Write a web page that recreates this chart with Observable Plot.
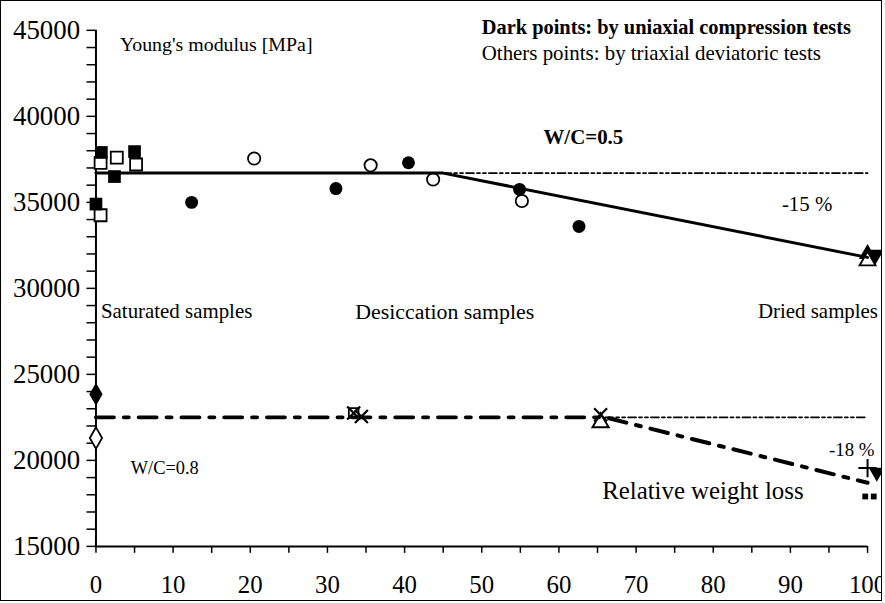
<!DOCTYPE html>
<html><head><meta charset="utf-8">
<script src="https://cdn.jsdelivr.net/npm/d3@7"></script>
<script src="https://cdn.jsdelivr.net/npm/@observablehq/plot@0.6"></script>
<style>
body{margin:0;background:#fff;}
#frame{position:absolute;left:0;top:0;width:880px;height:599px;border:1.5px solid #000;overflow:hidden;background:#fff;}
#frame svg{position:absolute;left:-1.5px;top:-1.5px;}
</style></head><body><div id="frame"></div>
<script>
// ---- tick labels ----
const xTickLabels = [0, 10, 20, 30, 40, 50, 60, 70, 80, 90, 100];
const yTickLabels = [15000, 20000, 25000, 30000, 35000, 40000, 45000];

// ---- W/C = 0.5 series ----
const w05FilledSquareX = [0, 0.7, 2.4, 5.0];
const w05FilledSquareY = [34900, 37900, 36500, 37950];
const w05OpenSquareX = [0.6, 0.6, 2.7, 5.2];
const w05OpenSquareY = [34250, 37300, 37600, 37200];
const w05FilledCircleX = [12.4, 31.1, 40.5, 54.9, 62.6];
const w05FilledCircleY = [35000, 35800, 37300, 35750, 33600];
const w05OpenCircleX = [20.5, 35.6, 43.7, 55.2];
const w05OpenCircleY = [37550, 37150, 36330, 35075];
const w05FilledTriX = [100];
const w05FilledTriY = [32000];
const w05OpenTriX = [100];
const w05OpenTriY = [31600];
const w05DownTriX = [101];
const w05DownTriY = [31950];
const w05TrendX = [0, 45, 100];
const w05TrendY = [36700, 36700, 31800];
const w05RefX = [45, 100];
const w05RefY = [36700, 36700];

// ---- W/C = 0.8 series ----
const w08FilledDiamondX = [0];
const w08FilledDiamondY = [23850];
const w08OpenDiamondX = [0];
const w08OpenDiamondY = [21300];
const w08BoxX = [33.4];
const w08BoxY = [22750];
const w08TimesX = [33.4, 34.4, 65.4];
const w08TimesY = [22750, 22550, 22650];
const w08OpenTriX = [65.4];
const w08OpenTriY = [22200];
const w08PlusX = [100];
const w08PlusY = [19550];
const w08DownTriX = [101.2];
const w08DownTriY = [19300];
const w08SmallSquareX = [99.7, 100.8];
const w08SmallSquareY = [17900, 17900];
const w08TrendX = [0, 66, 100];
const w08TrendY = [22500, 22500, 18700];
const w08RefX = [66, 100];
const w08RefY = [22500, 22500];

const serif = "'Liberation Serif', 'Times New Roman', serif";
const dashDotDot = "8,3,3,3,3,3";

function pts(X, Y, opts) { return Plot.dot(X, {x: X, y: Y, ...opts}); }
function note(txt, x, y, opts) {
  return Plot.text([txt], {x, y, text: d => d, textAnchor: "start", fontSize: 21, fill: "black", ...opts});
}

const chart = Plot.plot({
  width: 885, height: 603,
  marginLeft: 96, marginRight: 13, marginTop: 30, marginBottom: 54,
  x: {domain: [0, 100]},
  y: {domain: [15000, 45000]},
  style: {fontFamily: serif, color: "#000", background: "transparent", overflow: "visible"},
  marks: [
    // axes
    Plot.axisY(d3.range(15000, 45001, 1000), {tickSize: 9, tickFormat: () => "", strokeWidth: 1.5, label: null}),
    Plot.axisY(yTickLabels, {tickSize: 0, tickPadding: 16, fontSize: 27, tickFormat: d3.format("d"), label: null}),
    Plot.axisX(d3.range(0, 101, 5), {tickSize: 7, tickFormat: () => "", strokeWidth: 1.5, label: null}),
    Plot.axisX(xTickLabels, {tickSize: 0, tickPadding: 29, fontSize: 25, tickFormat: d3.format("d"), label: null}),
    Plot.ruleX([0], {y1: 15000, y2: 45000, strokeWidth: 2}),
    Plot.ruleY([15000], {x1: 0, x2: 100, strokeWidth: 2}),

    // reference (initial value) lines
    Plot.line(w05RefX, {x: w05RefX, y: w05RefY, stroke: "black", strokeWidth: 1.8, strokeDasharray: dashDotDot}),
    Plot.line(w08RefX, {x: w08RefX, y: w08RefY, stroke: "black", strokeWidth: 1.8, strokeDasharray: dashDotDot}),

    // W/C=0.5 points
    pts(w05OpenSquareX, w05OpenSquareY, {symbol: "square", r: 6.8, fill: "white", stroke: "black", strokeWidth: 1.8}),
    pts(w05FilledSquareX, w05FilledSquareY, {symbol: "square", r: 7.2, fill: "black"}),
    pts(w05FilledCircleX, w05FilledCircleY, {symbol: "circle", r: 6.5, fill: "black"}),
    pts(w05OpenCircleX, w05OpenCircleY, {symbol: "circle", r: 6.2, fill: "white", stroke: "black", strokeWidth: 1.8}),
    pts(w05DownTriX, w05DownTriY, {symbol: "triangle", rotate: 180, r: 6.5, fill: "black"}),
    pts(w05FilledTriX, w05FilledTriY, {symbol: "triangle", r: 6.5, fill: "black"}),
    pts(w05OpenTriX, w05OpenTriY, {symbol: "triangle", r: 6, fill: "white", stroke: "black", strokeWidth: 1.8}),

    // W/C=0.8 points
    pts(w08FilledDiamondX, w08FilledDiamondY, {symbol: "diamond", r: 7, fill: "black"}),
    pts(w08OpenDiamondX, w08OpenDiamondY, {symbol: "diamond", r: 6.5, fill: "white", stroke: "black", strokeWidth: 1.8}),
    pts(w08OpenTriX, w08OpenTriY, {symbol: "triangle", r: 6, fill: "white", stroke: "black", strokeWidth: 2}),
    pts(w08BoxX, w08BoxY, {symbol: "square", r: 5.5, fill: "white", stroke: "black", strokeWidth: 1.8}),
    pts(w08TimesX, w08TimesY, {symbol: "times", r: 6, stroke: "black", strokeWidth: 2.2}),
    pts(w08PlusX, w08PlusY, {symbol: "plus", r: 6, stroke: "black", strokeWidth: 2}),
    pts(w08DownTriX, w08DownTriY, {symbol: "triangle", rotate: 180, r: 6, fill: "black"}),
    pts(w08SmallSquareX, w08SmallSquareY, {symbol: "square", r: 3.3, fill: "black"}),

    // trend lines
    Plot.line(w05TrendX, {x: w05TrendX, y: w05TrendY, stroke: "black", strokeWidth: 3}),
    Plot.line(w08TrendX, {x: w08TrendX, y: w08TrendY, stroke: "black", strokeWidth: 4, strokeDasharray: "18,10,5,10"}),

    // annotations
    note("Young's modulus [MPa]", 3.1, 44150, {fontSize: 20}),
    note("Dark points: by uniaxial compression tests", 50, 45150, {fontSize: 20.5, fontWeight: "bold"}),
    note("Others points: by triaxial deviatoric tests", 50, 43650, {fontSize: 21}),
    note("W/C=0.5", 58, 38800, {fontSize: 21, fontWeight: "bold"}),
    note("-15 %", 88.9, 34880, {fontSize: 21}),
    note("Saturated samples", 0.65, 28640, {fontSize: 21}),
    note("Desiccation samples", 33.6, 28640, {fontSize: 22}),
    note("Dried samples", 85.8, 28640, {fontSize: 21}),
    note("W/C=0.8", 4.5, 19570, {fontSize: 18.5}),
    note("-18 %", 95, 20600, {fontSize: 19}),
    note("Relative weight loss", 65.6, 18240, {fontSize: 25})
  ]
});
document.getElementById("frame").appendChild(chart);
</script>
</body></html>
